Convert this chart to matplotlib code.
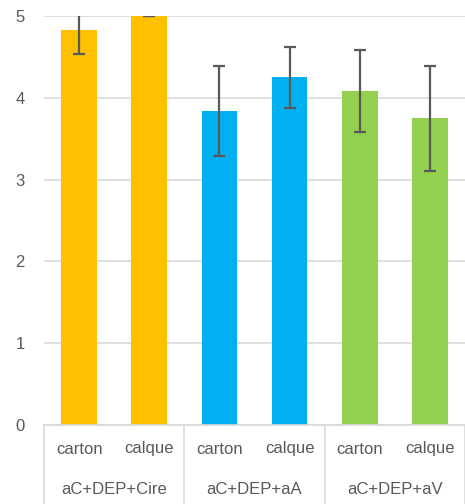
import matplotlib
matplotlib.use("Agg")
import matplotlib.pyplot as plt
from matplotlib.transforms import blended_transform_factory

plt.rcParams['font.family'] = ['Liberation Sans', 'DejaVu Sans']

categories = ["carton", "calque", "carton", "calque", "carton", "calque"]
groups = ["aC+DEP+Cire", "aC+DEP+aA", "aC+DEP+aV"]
values = [4.83, 5.0, 3.84, 4.25, 4.08, 3.75]
errors = [0.29, 0.0, 0.55, 0.37, 0.50, 0.64]
colors = ["#FFC000", "#FFC000", "#00B0F0", "#00B0F0", "#92D050", "#92D050"]
yticks = [0, 1, 2, 3, 4, 5]

fig = plt.figure(figsize=(4.65, 5.04), dpi=100)
ax = fig.add_axes([44/465, 79/504, 421/465, 409/504])

x = list(range(len(values)))
ax.bar(x, values, width=0.51, color=colors, zorder=2)
ax.errorbar(x, values, yerr=errors, fmt='none', ecolor='#595959',
            elinewidth=1.6, capsize=4.5, capthick=1.6, zorder=3)

ax.set_xlim(-0.5, 5.5)
ax.set_ylim(0, 5)
ax.set_yticks(yticks)
ax.set_yticklabels([str(t) for t in yticks])
ax.yaxis.grid(True, color='#d9d9d9', linewidth=1.2, zorder=0)
ax.set_axisbelow(True)
for s in ['top', 'right', 'left']:
    ax.spines[s].set_visible(False)
ax.spines['bottom'].set_color('#d9d9d9')
ax.spines['bottom'].set_linewidth(1.2)
ax.tick_params(axis='y', length=0, pad=14, labelsize=12, labelcolor='#595959')
ax.tick_params(axis='x', length=0)
ax.set_xticks(x)
ax.set_xticklabels([])

trans = blended_transform_factory(ax.transData, ax.transAxes)
h = 409
for xi, lab in zip(x, categories):
    ax.text(xi, -24/h, lab, transform=trans, ha='center', va='center',
            fontsize=12, color='#595959', clip_on=False)
for gi, g in enumerate(groups):
    ax.text(gi*2 + 0.5, -65/h, g, transform=trans, ha='center', va='center',
            fontsize=12, color='#595959', clip_on=False)
for sx in [-0.5, 1.5, 3.5, 5.5]:
    ax.plot([sx, sx], [0, -80/h], transform=trans, color='#d9d9d9',
            linewidth=1.2, clip_on=False)

fig.savefig("out.png", dpi=100)
